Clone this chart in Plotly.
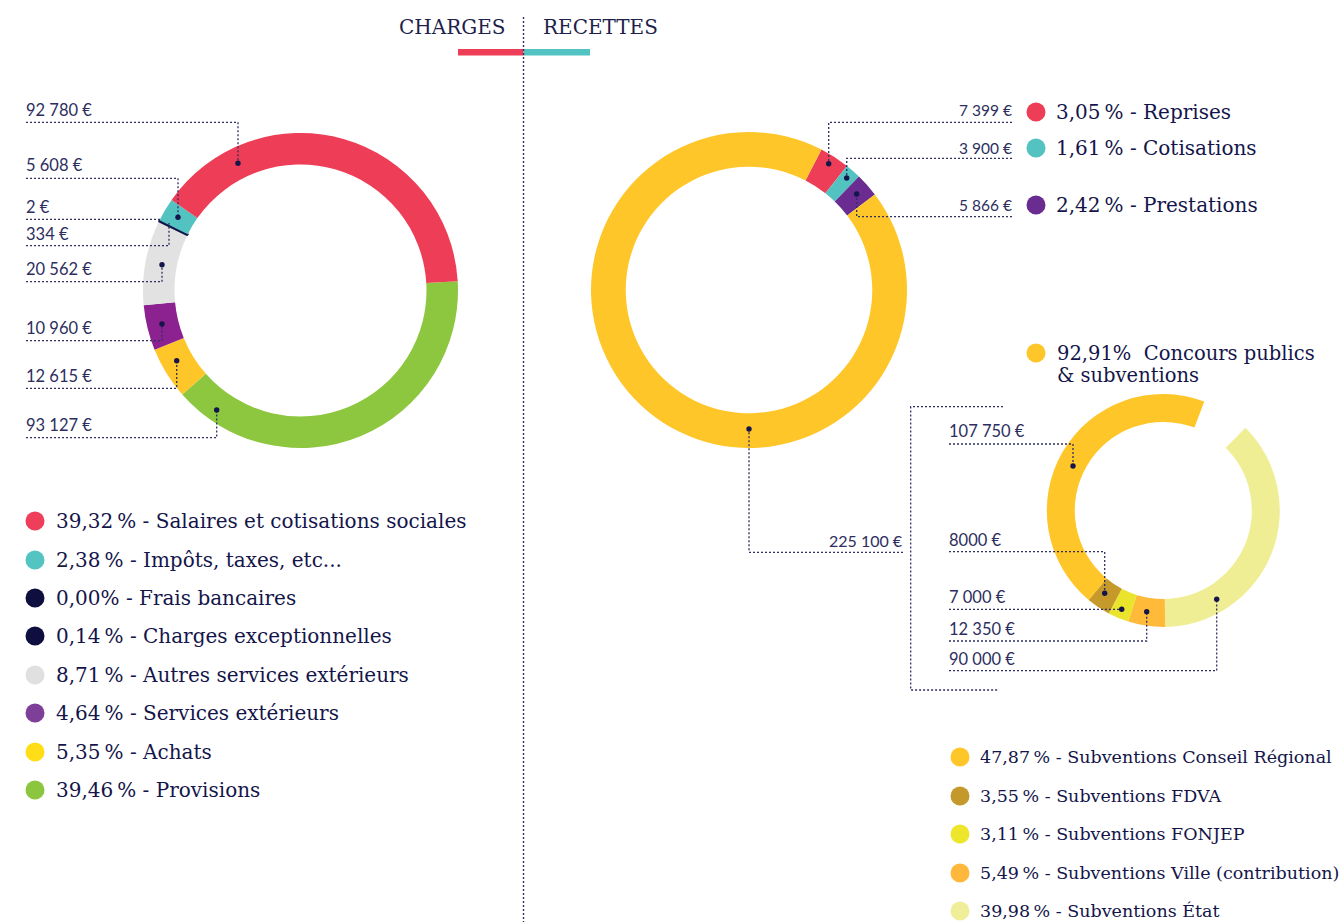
import plotly.graph_objects as go

W, H = 1339, 922

# ---------------- DATA ----------------
charges_labels = ["Salaires et cotisations sociales", "Impôts, taxes, etc...", "Frais bancaires",
                  "Charges exceptionnelles", "Autres services extérieurs", "Services extérieurs",
                  "Achats", "Provisions"]
charges_values = [92780, 5608, 2, 334, 20562, 10960, 12615, 93127]
charges_pct = ["39,32 %", "2,38 %", "0,00%", "0,14 %", "8,71 %", "4,64 %", "5,35 %", "39,46 %"]
charges_amounts = ["92 780 €", "5 608 €", "2 €", "334 €", "20 562 €", "10 960 €", "12 615 €", "93 127 €"]

recettes_labels = ["Reprises", "Cotisations", "Prestations", "Concours publics"]
recettes_values = [7399, 3900, 5866, 225100]
recettes_pct = ["3,05 %", "1,61 %", "2,42 %", "92,91%"]
recettes_amounts = ["7 399 €", "3 900 €", "5 866 €", "225 100 €"]

subv_labels = ["Subventions Conseil Régional", "Subventions FDVA", "Subventions FONJEP",
               "Subventions Ville (contribution)", "Subventions État"]
subv_values = [107750, 8000, 7000, 12350, 90000]
subv_pct = ["47,87 %", "3,55 %", "3,11 %", "5,49 %", "39,98 %"]
subv_amounts = ["107 750 €", "8000 €", "7 000 €", "12 350 €", "90 000 €"]

# ---------------- STYLE ----------------
NAVY = "#14154a"
LINE = "#2e2f62"
LABEL = "#2d2e5e"
SERIF = "DejaVu Serif"
SANS = "Lato"
NNBSP = "\u202f"

charges_colors = ["#ee3d56", "#52c3c0", "#0d0c3c", "#0d0c3c", "#e2e2e2", "#8c2190", "#ffc629", "#8dc63f"]
charges_legend_colors = ["#ef3e5a", "#53c4c1", "#0e0e3f", "#0e0e3f", "#e0e0e0", "#7e3f98", "#ffdd17", "#8cc63f"]
charges_line_w = [0, 0, 1.6, 1.6, 0, 0, 0, 0]
recettes_colors = ["#ee3d56", "#52c3c0", "#6a2c91", "#ffc629"]
subv_colors = ["#ffc629", "#c59a2a", "#eae42c", "#ffba3a", "#f0ee94"]
subv_legend_colors = ["#ffc629", "#c4982b", "#ede62d", "#ffb83c", "#f0ee98"]


def dom(cx, cy, r):
    return dict(x=[(cx - r) / W, (cx + r) / W], y=[1 - (cy + r) / H, 1 - (cy - r) / H])


def narrow(s):
    return s.replace(" %", NNBSP + "%")


fig = go.Figure()

# Charges donut (drawn clockwise from the reversed list)
fig.add_trace(go.Pie(
    labels=charges_labels[::-1], values=charges_values[::-1],
    marker=dict(colors=charges_colors[::-1], line=dict(color=NAVY, width=charges_line_w[::-1])),
    hole=0.80, sort=False, direction="clockwise", rotation=86.6,
    textinfo="none", hoverinfo="label+value", showlegend=False,
    domain=dom(300.5, 290.5, 157.5)))

# Recettes donut
fig.add_trace(go.Pie(
    labels=recettes_labels, values=recettes_values,
    marker=dict(colors=recettes_colors, line=dict(width=0)),
    hole=0.78, sort=False, direction="clockwise", rotation=27.3,
    textinfo="none", hoverinfo="label+value", showlegend=False,
    domain=dom(749, 290, 158)))

# Subventions partial donut (with an empty gap of ~24 degrees)
gap_deg = 24.2
subv_total = sum(subv_values)
gap_value = subv_total * gap_deg / (360 - gap_deg)
fig.add_trace(go.Pie(
    labels=subv_labels[::-1] + [" "], values=subv_values[::-1] + [gap_value],
    marker=dict(colors=subv_colors[::-1] + ["rgba(0,0,0,0)"], line=dict(width=0)),
    hole=0.76, sort=False, direction="clockwise", rotation=44.8,
    textinfo="none", hoverinfo="skip", showlegend=False,
    domain=dom(1163.3, 510.5, 116.5)))

shapes = []
annotations = []


def txt(x, y, s, size=16, font=SANS, color=LABEL, anchor="left"):
    dx = -2 if anchor == "left" else 2
    annotations.append(dict(x=x + dx, y=y, xref="x", yref="y", text=s, showarrow=False,
                            xanchor=anchor, yanchor="middle",
                            font=dict(family=font, size=size, color=color)))


def path(pts, width=1.3, color=LINE, dash="2px,2px"):
    d = "M " + " L ".join(f"{x},{y}" for x, y in pts)
    shapes.append(dict(type="path", path=d, xref="x", yref="y", layer="above",
                       line=dict(color=color, width=width, dash=dash)))


def dot(x, y, r=2.7):
    shapes.append(dict(type="circle", xref="x", yref="y", x0=x - r, x1=x + r, y0=y - r, y1=y + r,
                       layer="above", fillcolor=NAVY, line=dict(width=0)))


# ---------- title ----------
txt(506, 27, "CHARGES", size=20, font=SERIF, color="#1e1f4b", anchor="right")
txt(543, 27, "RECETTES", size=20, font=SERIF, color="#1e1f4b", anchor="left")
shapes.append(dict(type="rect", xref="x", yref="y", x0=458, x1=523.5, y0=49, y1=55.5,
                   fillcolor="#ee3d56", line=dict(width=0), layer="above"))
shapes.append(dict(type="rect", xref="x", yref="y", x0=523.5, x1=590, y0=49, y1=55.5,
                   fillcolor="#52c3c0", line=dict(width=0), layer="above"))
path([(523.5, 17), (523.5, 922)], width=1.4)

# ---------- charges leaders ----------
charges_label_y = [110, 165, 207, 234, 269, 328, 376, 425]
charges_leaders = [
    [(26, 122.3), (238, 122.3), (238, 163.3)],
    [(26, 178.3), (178, 178.3), (178, 217.3)],
    [(26, 219.3), (160, 219.3)],
    [(26, 245.7), (169, 245.7), (169, 223)],
    [(26, 281.7), (162, 281.7), (162, 264.7)],
    [(26, 340.7), (162, 340.7), (162, 324)],
    [(26, 388.3), (176.7, 388.3), (176.7, 360.7)],
    [(26, 437.7), (216.7, 437.7), (216.7, 410)],
]
charges_dots = [True, True, False, False, True, True, True, True]
for amt, y, pts, hasdot in zip(charges_amounts, charges_label_y, charges_leaders, charges_dots):
    txt(26, y, amt, size=16.5)
    path(pts)
    if hasdot:
        dot(*pts[-1])

# ---------- recettes leaders ----------
rec_label_y = [110, 148, 205]
rec_leaders = [
    [(1012, 122.3), (828.7, 122.3), (828.7, 163.7)],
    [(1012, 158.3), (846.7, 158.3), (846.7, 178)],
    [(1012, 216.7), (856.7, 216.7), (856.7, 194)],
]
for amt, y, pts in zip(recettes_amounts[:3], rec_label_y, rec_leaders):
    txt(1012, y, amt, size=15.5, anchor="right")
    path(pts)
    dot(*pts[-1])

txt(903, 540, recettes_amounts[3], size=16, anchor="right")
path([(903, 552.3), (749, 552.3), (749, 429)])
dot(749, 429)
path([(1003, 406.7), (910.7, 406.7), (910.7, 690), (999, 690)])

# ---------- subventions leaders ----------
subv_label_y = [431, 540, 597, 629, 659]
subv_leaders = [
    [(949, 444), (1073, 444), (1073, 466)],
    [(949, 551.7), (1104.7, 551.7), (1104.7, 593.3)],
    [(949, 609.3), (1121.7, 609.3)],
    [(949, 641), (1146.7, 641), (1146.7, 611.7)],
    [(949, 670.7), (1216.7, 670.7), (1216.7, 599.3)],
]
for amt, y, pts in zip(subv_amounts, subv_label_y, subv_leaders):
    txt(949, y, amt, size=16.5)
    path(pts)
    dot(*pts[-1])

# ---------- legends ----------
left_rows = [521, 560, 598, 636, 675, 713, 752, 790]
fig.add_trace(go.Scatter(x=[35] * len(left_rows), y=left_rows, mode="markers",
                         marker=dict(size=19, color=charges_legend_colors, line=dict(width=0)),
                         hoverinfo="skip", showlegend=False))
for p, lab, y in zip(charges_pct, charges_labels, left_rows):
    txt(56, y, narrow(f"{p} - {lab}"), size=20, font=SERIF, color=NAVY)

tr_rows = [112, 148, 205]
fig.add_trace(go.Scatter(x=[1036] * 4, y=tr_rows + [353], mode="markers",
                         marker=dict(size=19, color=recettes_colors, line=dict(width=0)),
                         hoverinfo="skip", showlegend=False))
for p, lab, y in zip(recettes_pct[:3], recettes_labels[:3], tr_rows):
    txt(1056, y, narrow(f"{p} - {lab}"), size=20, font=SERIF, color=NAVY)
txt(1057, 353, f"{recettes_pct[3]}  {recettes_labels[3]}", size=19.5, font=SERIF, color=NAVY)
txt(1057, 375, "&amp; subventions", size=19.5, font=SERIF, color=NAVY)

br_rows = [757, 796, 834, 873, 911]
fig.add_trace(go.Scatter(x=[960] * 5, y=br_rows, mode="markers",
                         marker=dict(size=19, color=subv_legend_colors, line=dict(width=0)),
                         hoverinfo="skip", showlegend=False))
for p, lab, y in zip(subv_pct, subv_labels, br_rows):
    txt(980, y, narrow(f"{p} - {lab}"), size=17.5, font=SERIF, color=NAVY)

fig.update_layout(
    width=W, height=H, margin=dict(l=0, r=0, t=0, b=0),
    paper_bgcolor="white", plot_bgcolor="white",
    xaxis=dict(range=[0, W], visible=False, fixedrange=True, domain=[0, 1]),
    yaxis=dict(range=[H, 0], visible=False, fixedrange=True, domain=[0, 1]),
    shapes=shapes, annotations=annotations, showlegend=False,
)

fig.write_html("out.html", config={"displayModeBar": False},
               post_script="document.body.style.margin='0';")
